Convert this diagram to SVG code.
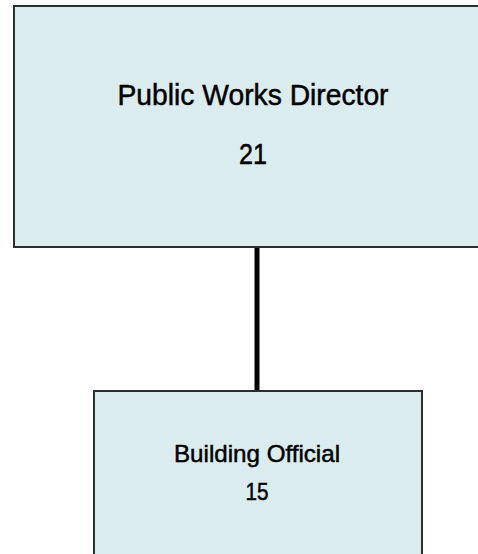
<svg xmlns="http://www.w3.org/2000/svg" width="478" height="554" viewBox="0 0 478 554">
<style>
.box{fill:#daecee;stroke:#2e2e2e;stroke-width:2}
.t{font-family:"Liberation Sans Narrow","Liberation Sans",Arial,sans-serif;fill:#000;stroke:#000;stroke-width:0.5;text-anchor:middle}
.conn{stroke:#000;stroke-width:5;fill:none}
</style>
<rect width="478" height="554" fill="#fff"/>
<g id="connectors">
<line class="conn" x1="257" y1="247" x2="257" y2="391"/>
</g>
<g id="node-director">
<rect class="box" x="14" y="6" width="480" height="241"/>
<text class="t" x="253" y="105" font-size="30" textLength="271" lengthAdjust="spacingAndGlyphs">Public Works Director</text>
<text class="t" x="253" y="164" font-size="30" textLength="28" lengthAdjust="spacingAndGlyphs">21</text>
</g>
<g id="node-building">
<rect class="box" x="94" y="391" width="328" height="180"/>
<text class="t" x="257" y="461.5" font-size="24.5" textLength="166" lengthAdjust="spacingAndGlyphs">Building Official</text>
<text class="t" x="257" y="500" font-size="24.5" textLength="23" lengthAdjust="spacingAndGlyphs">15</text>
</g>
</svg>
